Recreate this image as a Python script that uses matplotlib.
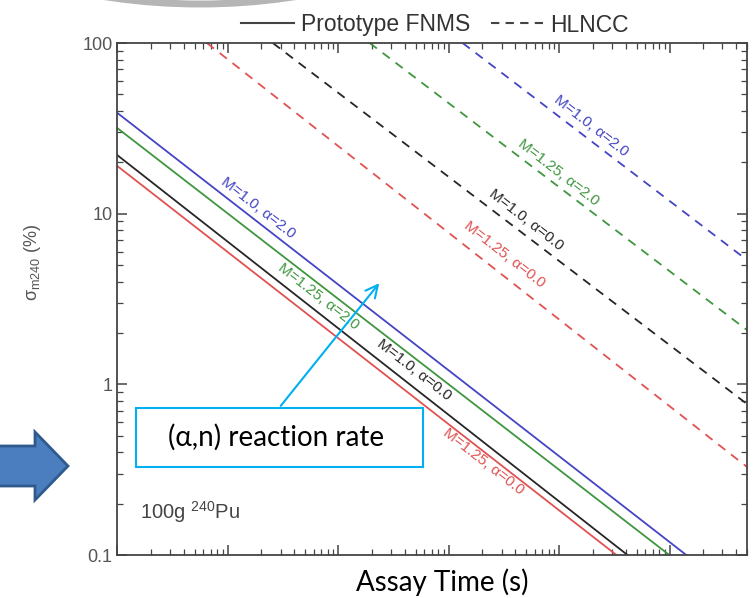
import numpy as np
import matplotlib
matplotlib.use("Agg")
import matplotlib.pyplot as plt
from matplotlib.lines import Line2D
from matplotlib.patches import Rectangle, Polygon, Ellipse, FancyArrowPatch

plt.rcParams['font.family'] = ['Liberation Sans', 'DejaVu Sans']
plt.rcParams['mathtext.fontset'] = 'custom'
plt.rcParams['mathtext.rm'] = 'Liberation Sans'

# Serien: M und alpha
serien = ["M=1.0, α=2.0", "M=1.25, α=2.0", "M=1.0, α=0.0", "M=1.25, α=0.0"]
farben = ["#4444c4", "#3f963f", "#262626", "#e05252"]

fnms_t0 = [1, 1, 1, 1]
fnms_s0 = [38.9, 31.7, 22.0, 19.0]
fnms_t1 = [1.41e5, 9.9e4, 4.14e4, 3.29e4]
fnms_s1 = [0.1, 0.1, 0.1, 0.1]

# HLNCC (gestrichelt)
hlncc_t0 = [1333, 192, 25.5, 6.46]
hlncc_s0 = [100, 100, 100, 100]
hlncc_t1 = [5e5, 5e5, 5e5, 5e5]
hlncc_s1 = [5.35, 2.08, 0.767, 0.328]

# Beschriftungspositionen (Achsenanteile)
pos_fnms = [(0.223, 0.678), (0.319, 0.504), (0.471, 0.361), (0.581, 0.182)]
pos_hlncc = [(0.752, 0.838), (0.701, 0.746), (0.649, 0.654), (0.614, 0.586)]

W, H = 753, 598
fig = plt.figure(figsize=(W / 100, H / 100), dpi=100)

def px(x, y):
    return (x / W, 1 - y / H)

ax = fig.add_axes([117.4 / W, (H - 555) / H, (747 - 117.4) / W, 512 / H])

for i in range(4):
    ax.plot([fnms_t0[i], fnms_t1[i]], [fnms_s0[i], fnms_s1[i]], color=farben[i], lw=1.3)
    ax.plot([hlncc_t0[i], hlncc_t1[i]], [hlncc_s0[i], hlncc_s1[i]], color=farben[i], lw=1.3,
            dashes=(5, 4))
    ax.text(pos_fnms[i][0], pos_fnms[i][1], serien[i], transform=ax.transAxes, color=farben[i],
            fontsize=11, rotation=-38, ha='center', va='center', rotation_mode='anchor')
    ax.text(pos_hlncc[i][0], pos_hlncc[i][1], serien[i], transform=ax.transAxes, color=farben[i],
            fontsize=11, rotation=-38, ha='center', va='center', rotation_mode='anchor')

ax.set_xscale('log')
ax.set_yscale('log')
ax.set_xlim(1, 5e5)
ax.set_ylim(0.1, 100)
ax.set_yticks([0.1, 1, 10, 100])
ax.set_yticklabels(['0.1', '1', '10', '100'])
ax.tick_params(which='both', direction='in', top=True, right=True, colors='#444444',
               labelcolor='#555555', labelsize=13)
ax.tick_params(which='major', length=7, width=1.1)
ax.tick_params(which='minor', length=4, width=0.9)
ax.tick_params(axis='x', labelbottom=False)
for s in ax.spines.values():
    s.set_color('#444444')
    s.set_linewidth(1.3)

ax.set_ylabel('σ$_{\\mathregular{m240}}$ (%)', fontsize=13, color='#555555')
ax.yaxis.set_label_coords(-0.118, 0.572)

ax.text(0.036, 0.084, '100g $^{\\mathregular{240}}$Pu', transform=ax.transAxes,
        fontsize=14.5, color='#444444', va='center')

# Legende oben
griffe = [Line2D([], [], color='#444444', lw=1.5),
          Line2D([], [], color='#444444', lw=1.5, dashes=(4, 3))]
fig.legend(griffe, ['Prototype FNMS', 'HLNCC'], loc='center', bbox_to_anchor=px(435, 25),
           ncol=2, frameon=False, fontsize=16.5, handlelength=2.3, handletextpad=0.3,
           columnspacing=0.9, labelcolor='#333333')

# Kasten mit Pfeil
fig.patches.append(Rectangle(px(136, 467), 287 / W, 59 / H, transform=fig.transFigure,
                             facecolor='white', edgecolor='#00b0f0', lw=1.5))
fig.text(*px(276, 437), '(α,n) reaction rate', fontsize=20, family=['Lato', 'DejaVu Sans'],
         ha='center', va='center', color='black')
fig.add_artist(FancyArrowPatch(px(279, 408), px(381, 281), transform=fig.transFigure,
                               arrowstyle='->', mutation_scale=22, color='#00b0f0', lw=1.5))

# blauer Blockpfeil links
pfeil = [(-5, 446), (35, 446), (35, 432), (68, 466), (35, 500), (35, 486), (-5, 486)]
fig.patches.append(Polygon([px(x, y) for x, y in pfeil], closed=True, transform=fig.transFigure,
                           facecolor='#4a7ebf', edgecolor='#2f5a8e', lw=2))

# grauer Bogen oben
fig.patches.append(Ellipse(px(200, -300), 870 / W, 608 / H, transform=fig.transFigure,
                           facecolor='none', edgecolor='#b5b5b5', lw=5))

fig.text(*px(442, 582), 'Assay Time (s)', fontsize=20, family=['Lato', 'DejaVu Sans'],
         ha='center', va='center', color='black')

fig.savefig('out.png', dpi=100)
